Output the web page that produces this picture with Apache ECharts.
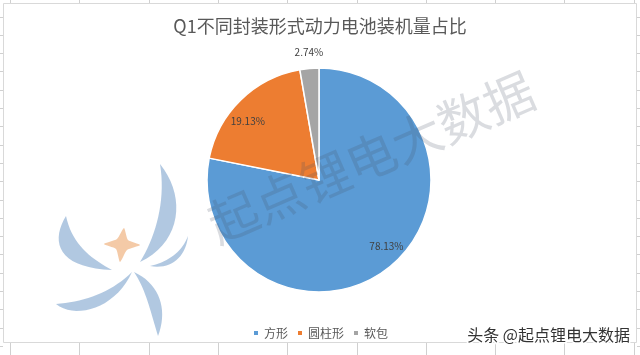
<!DOCTYPE html>
<html><head><meta charset="utf-8">
<script src="https://cdn.jsdelivr.net/npm/echarts@6/dist/echarts.min.js"></script>
<style>html,body{margin:0;padding:0;background:#fff}#c{width:640px;height:355px}</style>
</head><body><div id="c"></div>
<script>
const titleText = 'Q1不同封装形式动力电池装机量占比';
const categories = ['方形', '圆柱形', '软包'];
const shares = [78.13, 19.13, 2.74];
const colors = ['#5B9BD5', '#ED7D31', '#A5A5A5'];
const labelShift = [[30, 21], [-30, -17], [-5, -69]];

const FONT = '"Noto Sans CJK SC","Noto Sans",sans-serif';
const chart = echarts.init(document.getElementById('c'));

// Excel sheet decoration (border + grid ticks)
const deco = [];
deco.push({type:'rect', shape:{x:3.5,y:3.5,width:633,height:339}, style:{fill:'none',stroke:'#d9d9d9',lineWidth:1}, z:-10});
for (let x = 10; x < 640; x += 69.3) {
  deco.push({type:'line', shape:{x1:Math.round(x)+0.5,y1:0,x2:Math.round(x)+0.5,y2:3}, style:{stroke:'#d0d0d0'}, z:-10});
  deco.push({type:'line', shape:{x1:Math.round(x)+0.5,y1:343,x2:Math.round(x)+0.5,y2:355}, style:{stroke:'#d0d0d0'}, z:-10});
}
for (let y = 16.5; y < 355; y += 18.3) {
  deco.push({type:'line', shape:{x1:0,y1:Math.round(y)+0.5,x2:3,y2:Math.round(y)+0.5}, style:{stroke:'#d0d0d0'}, z:-10});
  deco.push({type:'line', shape:{x1:637,y1:Math.round(y)+0.5,x2:640,y2:Math.round(y)+0.5}, style:{stroke:'#d0d0d0'}, z:-10});
}

// logo watermark built from sampled bezier outlines
function bez(p0,p1,p2,p3,n){const o=[];for(let i=0;i<=n;i++){const t=i/n,u=1-t;o.push([u*u*u*p0[0]+3*u*u*t*p1[0]+3*u*t*t*p2[0]+t*t*t*p3[0],u*u*u*p0[1]+3*u*u*t*p1[1]+3*u*t*t*p2[1]+t*t*t*p3[1]]);}return o;}
function crescent(a,c1,c2,b,d1,d2){return bez(a,c1,c2,b,18).concat(bez(b,d1,d2,a,18));}
const petal = '#a8c2de';
const shapes = [
  crescent([66,216],[50,242],[58,268],[112,270],[90,258],[72,244]),
  crescent([160,164],[186,196],[182,242],[140,262],[156,236],[166,200]),
  crescent([56,304],[76,320],[116,308],[132,272],[112,292],[84,302]),
  crescent([134,272],[160,284],[168,310],[158,336],[150,310],[146,290]),
  crescent([150,266],[168,262],[182,252],[188,236],[186,256],[172,270])
];
const logoChildren = shapes.map(pts => ({type:'polygon', shape:{points:pts}, style:{fill:petal, opacity:0.9}, silent:true}));
const star = [[124,228],[128,240],[140,245],[127,250],[120,262],[116,249],[104,244],[117,239]];
logoChildren.push({type:'polygon', shape:{points:star, smooth:0.2}, style:{fill:'#f3c7a2', opacity:0.95}, silent:true});

const option = {
  backgroundColor:'#ffffff',
  color: colors,
  title:{text:titleText, left:'center', top:12,
    textStyle:{fontFamily:FONT, fontSize:18, fontWeight:'normal', color:'#595959'}},
  legend:{bottom:11, left:'center', itemWidth:6, itemHeight:6, itemGap:8, icon:'rect',
    textStyle:{fontFamily:FONT, fontSize:12, color:'#595959'},
    data:categories},
  graphic: deco.concat(logoChildren.map(e => Object.assign(e, {z:50}))).concat([
    {type:'text', x:371, y:157, rotation:23.4*Math.PI/180, z:60, silent:true,
      style:{text:'起点锂电大数据', font:'50px "Noto Sans CJK SC"', fill:'rgba(70,80,100,0.2)', align:'center', verticalAlign:'middle'}},
    {type:'text', x:630, y:335, z:70, silent:true,
      style:{text:'头条 @起点锂电大数据', font:'16px "Noto Sans CJK SC"', fill:'#333333', stroke:'#ffffff', lineWidth:3, align:'right', verticalAlign:'middle'}}
  ]),
  series:[{
    type:'pie', center:[319,180], radius:112, startAngle:90, clockwise:true,
    avoidLabelOverlap:false, animation:false,
    itemStyle:{borderColor:'#ffffff', borderWidth:1.5},
    label:{show:true, position:'inside', fontFamily:FONT, fontSize:10, color:'#404040',
      formatter:p => p.value.toFixed(2) + '%'},
    labelLine:{show:false},
    labelLayout: p => ({dx: labelShift[p.dataIndex][0], dy: labelShift[p.dataIndex][1]}),
    data: categories.map((c,i) => ({name:c, value:shares[i]}))
  }]
};
chart.setOption(option);
</script></body></html>
